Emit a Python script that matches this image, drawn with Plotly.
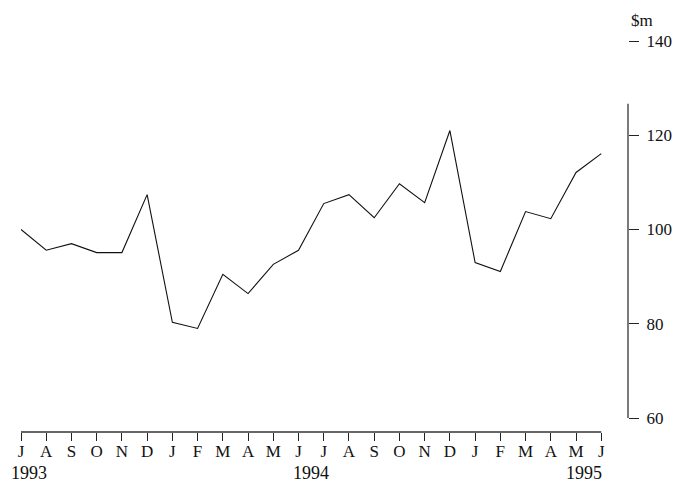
import plotly.graph_objects as go

months = ["J", "A", "S", "O", "N", "D", "J", "F", "M", "A", "M", "J",
          "J", "A", "S", "O", "N", "D", "J", "F", "M", "A", "M", "J"]
values = [100.0, 95.6, 97.0, 95.1, 95.1, 107.4, 80.3, 79.0, 90.5, 86.4, 92.6, 95.6,
          105.5, 107.4, 102.5, 109.7, 105.7, 121.0, 93.0, 91.1, 103.8, 102.3, 112.1, 116.1]
years = ["1993", "1994", "1995"]
year_pos = [0, 11.5, 23]
y_ticks = [60, 80, 100, 120, 140]
unit_label = "$m"

x = list(range(len(values)))
FONT = "Liberation Serif"
INK = "#111111"

fig = go.Figure()
fig.add_trace(go.Scatter(x=x, y=values, mode="lines",
                         line=dict(color=INK, width=1.1),
                         hoverinfo="skip", showlegend=False))

# page body has an 8px margin, so the figure is sized/offset to compensate
fig.update_layout(
    width=674, height=479,
    margin=dict(l=10, r=53, t=33, b=55),
    paper_bgcolor="white", plot_bgcolor="white",
    font=dict(family=FONT, color=INK, size=17),
    xaxis=dict(range=[0, 24.06], tickmode="array", tickvals=x, ticktext=months,
               ticks="outside", ticklen=8, tickwidth=1, tickcolor="#222222",
               ticklabelstandoff=-4,
               showline=False, showgrid=False, zeroline=False,
               tickfont=dict(family=FONT, size=17, color=INK)),
    yaxis=dict(range=[57.03, 140], side="right", tickmode="array", tickvals=y_ticks,
               ticks="outside", ticklen=10, tickwidth=1, tickcolor="#222222",
               ticklabelstandoff=4,
               showline=False, showgrid=False, zeroline=False,
               tickfont=dict(family=FONT, size=17, color=INK)),
)

# axis lines (partial spans, as in the reference)
fig.add_shape(type="line", xref="paper", yref="y", x0=1, x1=1, y0=60, y1=126.7,
              line=dict(color="#333333", width=1.3))
fig.add_shape(type="line", xref="x", yref="paper", x0=0, x1=23, y0=0, y1=0,
              line=dict(color="#333333", width=1.3))

# year labels
anchors = ["left", "center", "right"]
shifts = [-12, 0, 3]
for yr, pos, anc, sh in zip(years, year_pos, anchors, shifts):
    fig.add_annotation(x=pos, y=0, xref="x", yref="paper", text=yr, showarrow=False,
                       xanchor=anc, yanchor="middle", xshift=sh, yshift=-41,
                       font=dict(family=FONT, size=18, color=INK))

fig.add_annotation(x=1, y=1, xref="paper", yref="paper", text=unit_label, showarrow=False,
                   xanchor="left", yanchor="middle", xshift=1, yshift=21,
                   font=dict(family=FONT, size=17, color=INK))

fig.write_html("out.html")
